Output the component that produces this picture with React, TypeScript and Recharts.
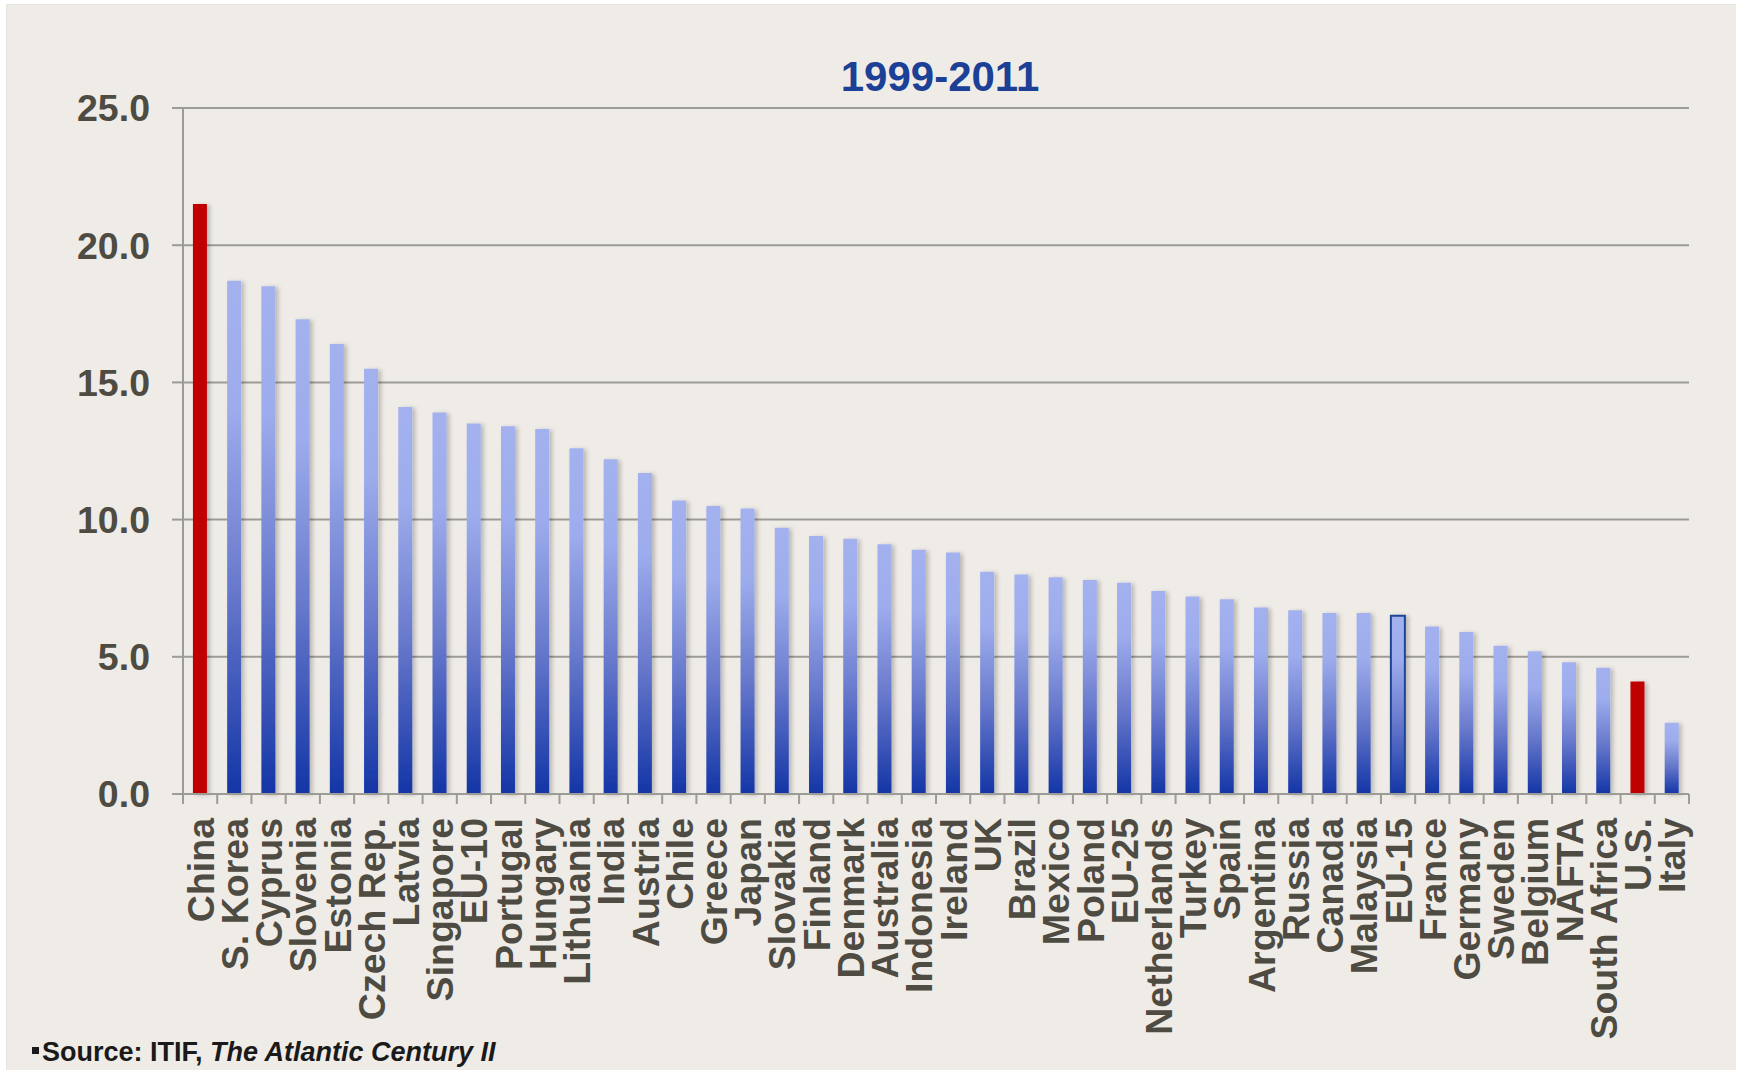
import React from 'react';
import { BarChart, Bar, XAxis, YAxis, CartesianGrid, Cell } from 'recharts';

const countries = [
  'China', 'S. Korea', 'Cyprus', 'Slovenia', 'Estonia', 'Czech Rep.', 'Latvia', 'Singapore',
  'EU-10', 'Portugal', 'Hungary', 'Lithuania', 'India', 'Austria', 'Chile', 'Greece', 'Japan',
  'Slovakia', 'Finland', 'Denmark', 'Australia', 'Indonesia', 'Ireland', 'UK', 'Brazil', 'Mexico',
  'Poland', 'EU-25', 'Netherlands', 'Turkey', 'Spain', 'Argentina', 'Russia', 'Canada', 'Malaysia',
  'EU-15', 'France', 'Germany', 'Sweden', 'Belgium', 'NAFTA', 'South Africa', 'U.S.', 'Italy',
];

const growth = [
  21.5, 18.7, 18.5, 17.3, 16.4, 15.5, 14.1, 13.9,
  13.5, 13.4, 13.3, 12.6, 12.2, 11.7, 10.7, 10.5, 10.4,
  9.7, 9.4, 9.3, 9.1, 8.9, 8.8, 8.1, 8.0, 7.9,
  7.8, 7.7, 7.4, 7.2, 7.1, 6.8, 6.7, 6.6, 6.6,
  6.5, 6.1, 5.9, 5.4, 5.2, 4.8, 4.6, 4.1, 2.6,
];

const redBars = ['China', 'U.S.'];
const outlinedBars = ['EU-15'];
const yTicks = [0, 5, 10, 15, 20, 25];
const title = '1999-2011';

const data = countries.map((name, i) => ({ name, value: growth[i] }));

const FONT = '"Liberation Sans", Arial, Helvetica, sans-serif';
const TEXT = '#4E4B42';
const GRID = '#9D9B96';
const BG = '#EFECE7';
const TICK_LEN = 10;
const TICK_GAP = 14;

// category label rotated upward, with the tick mark drawn on the left edge of the band
function CountryTick(props: any) {
  const { x, y, payload, index } = props;
  const half = payload && payload.offset ? payload.offset : 0;
  const axisY = y - TICK_GAP - TICK_LEN;
  return (
    <g>
      <line x1={x - half} x2={x - half} y1={axisY} y2={axisY + TICK_LEN} stroke={GRID} strokeWidth={2} />
      {index === countries.length - 1 && (
        <line x1={x + half} x2={x + half} y1={axisY} y2={axisY + TICK_LEN} stroke={GRID} strokeWidth={2} />
      )}
      <text
        transform={`translate(${x},${y}) rotate(-90)`}
        textAnchor="end"
        dy="0.36em"
        fill={TEXT}
        fontFamily={FONT}
        fontWeight="bold"
        fontSize={37.5}
      >
        {payload.value}
      </text>
    </g>
  );
}

export default function App() {
  return (
    <div style={{ position: 'absolute', left: 0, top: 0, width: 1739, height: 1070, background: '#fff', fontFamily: FONT }}>
      <div style={{ position: 'absolute', left: 6, top: 4, width: 1729, height: 1066, background: BG, borderTop: '1px solid #e6e4e0', borderLeft: '1px solid #e6e4e0' }} />
      <div style={{ position: 'absolute', left: 0, top: 0 }}>
        <BarChart
          width={1739}
          height={1070}
          data={data}
          margin={{ top: 108, right: 50, bottom: 0, left: 0 }}
          barCategoryGap="29%"
        >
          <defs>
            <linearGradient id="blueFade" x1="0" y1="0" x2="0" y2="1">
              <stop offset="0%" stopColor="#A3B1EF" />
              <stop offset="25%" stopColor="#9DACEC" />
              <stop offset="60%" stopColor="#6879CC" />
              <stop offset="100%" stopColor="#1335A6" />
            </linearGradient>
            <filter id="barShadow" x="-50%" y="-10%" width="200%" height="120%">
              <feDropShadow dx={3} dy={1} stdDeviation={2} floodColor="#000" floodOpacity={0.22} />
            </filter>
          </defs>
          <CartesianGrid horizontal vertical={false} stroke={GRID} strokeWidth={2} />
          <XAxis
            dataKey="name"
            type="category"
            interval={0}
            height={276}
            tickLine={false}
            tickSize={TICK_LEN}
            tickMargin={TICK_GAP}
            axisLine={{ stroke: GRID, strokeWidth: 2 }}
            tick={<CountryTick />}
          />
          <YAxis
            type="number"
            domain={[0, 25]}
            ticks={yTicks}
            width={183}
            tickSize={11}
            tickMargin={22}
            tickFormatter={(v: number) => v.toFixed(1)}
            axisLine={{ stroke: GRID, strokeWidth: 2 }}
            tickLine={{ stroke: GRID, strokeWidth: 2 }}
            tick={{ fill: TEXT, fontSize: 37.5, fontWeight: 'bold', fontFamily: FONT }}
          />
          <Bar dataKey="value" isAnimationActive={false}>
            {data.map((d) => (
              <Cell
                key={d.name}
                fill={redBars.includes(d.name) ? '#C00000' : 'url(#blueFade)'}
                stroke={outlinedBars.includes(d.name) ? '#1F4599' : 'none'}
                strokeWidth={outlinedBars.includes(d.name) ? 2 : 0}
                filter="url(#barShadow)"
              />
            ))}
          </Bar>
        </BarChart>
      </div>
      <div style={{ position: 'absolute', left: 0, width: 1880, top: 56, fontSize: 42, lineHeight: 1, fontWeight: 'bold', color: '#1B4096', textAlign: 'center' }}>
        {title}
      </div>
      <div style={{ position: 'absolute', left: 32, top: 1039, fontSize: 27, lineHeight: 1, fontWeight: 'bold', color: '#1A1A1A', whiteSpace: 'nowrap' }}>
        <span style={{ display: 'inline-block', width: 7, height: 7, background: '#1A1A1A', marginRight: 3, verticalAlign: 'middle', position: 'relative', top: -3 }} />
        Source: ITIF, <i>The Atlantic Century II</i>
      </div>
    </div>
  );
}
